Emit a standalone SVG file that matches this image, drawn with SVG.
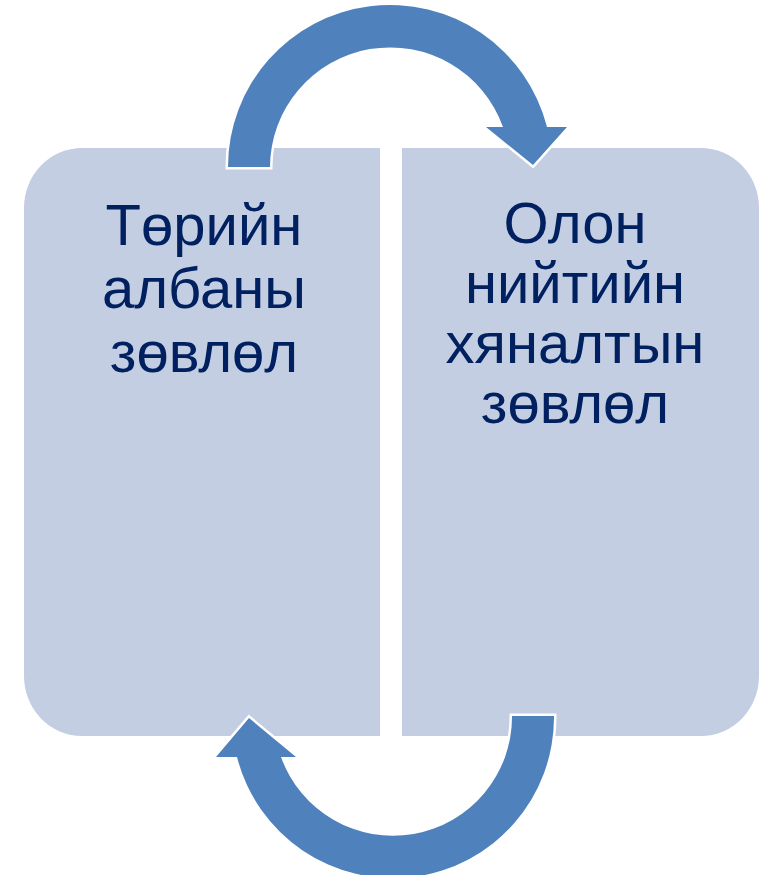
<svg xmlns="http://www.w3.org/2000/svg" width="761" height="875" viewBox="0 0 761 875">
<style>
.box{fill:#c3cee3}
.arrow{fill:#4f81bd;stroke:#ffffff;stroke-width:5;stroke-linejoin:miter;paint-order:stroke}
.lbl{font-family:"Liberation Sans",Arial,sans-serif;font-size:58px;fill:#002060;text-anchor:middle}
</style>
<rect width="761" height="875" fill="#ffffff"/>
<g id="node-left">
<path class="box" d="M 82 148 L 380 148 L 380 736 L 82 736 A 58 60 0 0 1 24 676 L 24 208 A 58 60 0 0 1 82 148 Z"/>
<text class="lbl"><tspan x="204" y="245">Төрийн</tspan><tspan x="204" y="308">албаны</tspan><tspan x="204" y="372">зөвлөл</tspan></text>
</g>
<g id="node-right">
<path class="box" d="M 402 148 L 701 148 A 58 60 0 0 1 759 208 L 759 676 A 58 60 0 0 1 701 736 L 402 736 Z"/>
<text class="lbl"><tspan x="575" y="243">Олон</tspan><tspan x="575" y="303">нийтийн</tspan><tspan x="575" y="363">хяналтын</tspan><tspan x="575" y="423">зөвлөл</tspan></text>
</g>
<g id="connectors">
<path class="arrow" d="M 228 167 A 162 162 0 0 1 547 127 L 567 127 L 533 165 L 486 127 L 503 127 A 120 120 0 0 0 270 167 Z"/>
<path class="arrow" d="M 554 716 A 161 161 0 0 1 237 757 L 216 757 L 249 718 L 296 757 L 281 757 A 119 119 0 0 0 512 716 Z"/>
</g>
</svg>
